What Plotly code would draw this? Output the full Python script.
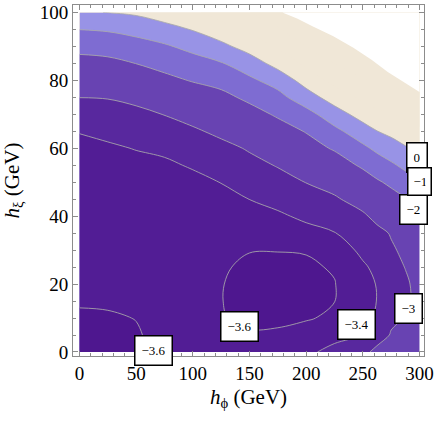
import plotly.graph_objects as go

# grid of the contour function
hphi = [0, 25, 50, 75, 100, 125, 150, 175, 200, 225, 250, 262.5, 275, 287.5, 300]
hxi = [0, 5, 10, 15, 20, 25, 30, 35, 40, 45, 50, 55, 60, 65, 70, 75, 80, 85, 90, 95, 100]

# one profile per hphi column, values at hxi = 0, 5, ..., 100
z_columns = [
    [-3.66, -3.64, -3.615, -3.59, -3.578, -3.565, -3.55, -3.535, -3.518, -3.5, -3.48,
     -3.457, -3.43, -3.395, -3.2, -2.996, -2.617, -2.28, -1.75, -0.99, -0.05],
    [-3.65, -3.632, -3.61, -3.588, -3.575, -3.56, -3.546, -3.53, -3.512, -3.493, -3.472,
     -3.448, -3.418, -3.37, -3.175, -2.98, -2.56, -2.22, -1.65, -0.9, 0.01],
    [-3.62, -3.608, -3.598, -3.585, -3.57, -3.555, -3.54, -3.523, -3.505, -3.485, -3.462,
     -3.435, -3.395, -3.23, -3.08, -2.92, -2.5, -1.99, -1.4, -0.68, 0.15],
    [-3.558, -3.572, -3.577, -3.574, -3.566, -3.555, -3.543, -3.53, -3.513, -3.493, -3.468,
     -3.435, -3.36, -3.2, -2.99, -2.72, -2.2, -1.75, -1.12, -0.35, 0.5],
    [-3.55, -3.57, -3.58, -3.58, -3.575, -3.565, -3.55, -3.535, -3.515, -3.49, -3.455,
     -3.38, -3.27, -3.08, -2.8, -2.45, -1.95, -1.4, -0.72, 0.05, 0.85],
    [-3.56, -3.585, -3.594, -3.597, -3.595, -3.585, -3.57, -3.55, -3.52, -3.475, -3.395,
     -3.3, -3.15, -2.88, -2.6, -2.25, -1.7, -1.06, -0.25, 0.6, 1.4],
    [-3.57, -3.59, -3.62, -3.64, -3.64, -3.625, -3.595, -3.56, -3.5, -3.398, -3.3,
     -3.15, -2.95, -2.7, -2.35, -1.8, -1.18, -0.5, 0.4, 1.2, 2.0],
    [-3.575, -3.585, -3.62, -3.655, -3.66, -3.64, -3.595, -3.53, -3.44, -3.32, -3.18,
     -2.97, -2.72, -2.4, -1.88, -1.3, -0.62, 0.35, 1.1, 1.9, 2.6],
    [-3.49, -3.55, -3.61, -3.635, -3.64, -3.625, -3.59, -3.48, -3.35, -3.2, -2.99,
     -2.72, -2.4, -1.95, -1.35, -0.45, 0.4, 1.2, 2.0, 2.7, 3.3],
    [-3.265, -3.535, -3.58, -3.602, -3.607, -3.585, -3.5, -3.41, -3.27, -3.05, -2.85,
     -2.5, -1.9, -1.25, -0.45, 0.45, 1.3, 2.0, 2.7, 3.3, 3.9],
    [-3.1, -3.39, -3.43, -3.445, -3.44, -3.425, -3.36, -3.25, -3.06, -2.84, -2.5,
     -1.85, -1.2, -0.45, 0.4, 1.2, 1.9, 2.6, 3.2, 3.8, 4.3],
    [-2.9, -3.17, -3.385, -3.398, -3.395, -3.36, -3.25, -3.1, -2.9, -2.62, -2.12,
     -1.5, -0.8, -0.02, 0.75, 1.5, 2.2, 2.8, 3.4, 3.9, 4.4],
    [-2.72, -2.975, -3.06, -3.1, -3.1, -3.07, -3.045, -2.975, -2.75, -2.35, -1.82,
     -1.15, -0.45, 0.25, 0.95, 1.6, 2.2, 2.8, 3.3, 3.8, 4.3],
    [-2.5, -2.8, -2.99, -3.04, -3.03, -2.995, -2.93, -2.8, -2.55, -2.07, -1.45,
     -0.78, -0.1, 0.55, 1.2, 1.8, 2.4, 2.9, 3.4, 3.8, 4.2],
    [-2.3, -2.62, -2.85, -2.93, -2.94, -2.9, -2.82, -2.65, -2.3, -1.8, -1.15,
     -0.48, 0.2, 0.85, 1.45, 2.0, 2.5, 3.0, 3.4, 3.8, 4.1],
]

# contour levels, from highest to lowest, and the shade below each
levels = [0, -1, -2, -3, -3.4, -3.6]
band_colors = ["#9893E6", "#7E6CD2", "#6843B2", "#58289E", "#521D95", "#4E178F"]
top_color = "#F0E7D7"

# edge of the region where the function is defined (white beyond it)
edge_hphi = [179, 192, 206, 224, 242, 258, 272, 289, 300, 300]
edge_hxi = [100, 98.2, 95.9, 93, 89.5, 86, 82.5, 79, 76.6, 100]

# contour label boxes: (hphi, hxi, text)
label_boxes = [
    (298.2, 57.3, "0"),
    (294.7, 42.1, "\u22122"),
    (290.3, 12.7, "\u22123"),
    (244.4, 8.0, "\u22123.4"),
    (141.2, 7.4, "\u22123.6"),
    (65.3, 0.4, "\u22123.6"),
]
# this one is cut by the frame in the original
clipped_box = (288.6, 50.1, "\u22121")

z = [list(row) for row in zip(*z_columns)]

SERIF = "Liberation Serif"
FRAME = "#8c8c8c"

fig = go.Figure()
fig.add_trace(go.Contour(
    x=hphi, y=hxi, z=z, colorscale=[[0, top_color], [1, top_color]],
    contours=dict(coloring="fill"), line=dict(width=0), showscale=False,
    hoverinfo="skip",
))
for lev, col in zip(levels, band_colors):
    fig.add_trace(go.Contour(
        x=hphi, y=hxi, z=z,
        contours=dict(type="constraint", operation=">", value=lev),
        fillcolor=col,
        line=dict(color="rgba(170,170,170,0.95)", width=0.9, smoothing=1.0),
        showscale=False, hoverinfo="skip",
    ))
fig.add_trace(go.Scatter(
    x=edge_hphi, y=edge_hxi, mode="lines", fill="toself", fillcolor="white",
    line=dict(width=0, color="white"), hoverinfo="skip", showlegend=False,
))

for x, y, text in label_boxes:
    fig.add_annotation(
        x=x, y=y, text=text, showarrow=False, height=16,
        font=dict(family=SERIF, size=13, color="black"),
        bgcolor="white", bordercolor="black", borderwidth=1.5, borderpad=6,
    )
x, y, text = clipped_box
fig.add_annotation(
    x=x, y=y, text=text, showarrow=False, height=16, width=12, align="left",
    xanchor="left", font=dict(family=SERIF, size=13, color="black"),
    bgcolor="white", bordercolor="black", borderwidth=1.5, borderpad=5,
)

axis_common = dict(
    showline=True, linecolor=FRAME, linewidth=1, mirror="ticks",
    ticks="inside", ticklen=5, tickcolor=FRAME, tickwidth=1,
    showgrid=False, zeroline=False, automargin=False,
    tickfont=dict(family=SERIF, size=19, color="black"),
)
fig.update_layout(
    template="none",
    width=436, height=424,
    margin=dict(l=73, r=12, t=5, b=68),
    paper_bgcolor="white", plot_bgcolor="white",
    font=dict(family=SERIF, color="black"),
    showlegend=False,
    xaxis=dict(
        range=[-5.75, 304], tickvals=[0, 50, 100, 150, 200, 250, 300],
        minor=dict(dtick=10, ticks="inside", ticklen=3, tickcolor=FRAME),
        title=dict(text="<i>h</i><sub>\u03d5</sub> (GeV)",
                   font=dict(family=SERIF, size=21, color="black"), standoff=6),
        **axis_common,
    ),
    yaxis=dict(
        range=[-1.18, 102.2], tickvals=[0, 20, 40, 60, 80, 100],
        minor=dict(dtick=5, ticks="inside", ticklen=3, tickcolor=FRAME),
        title=dict(text="<i>h</i><sub>\u03be</sub> (GeV)",
                   font=dict(family=SERIF, size=21, color="black"), standoff=15),
        **axis_common,
    ),
)

# the page's default body margin would shift the figure by 8 px
fig.write_html(
    "out.html",
    config={"displayModeBar": False},
    post_script="document.body.style.margin = '0px';",
)
